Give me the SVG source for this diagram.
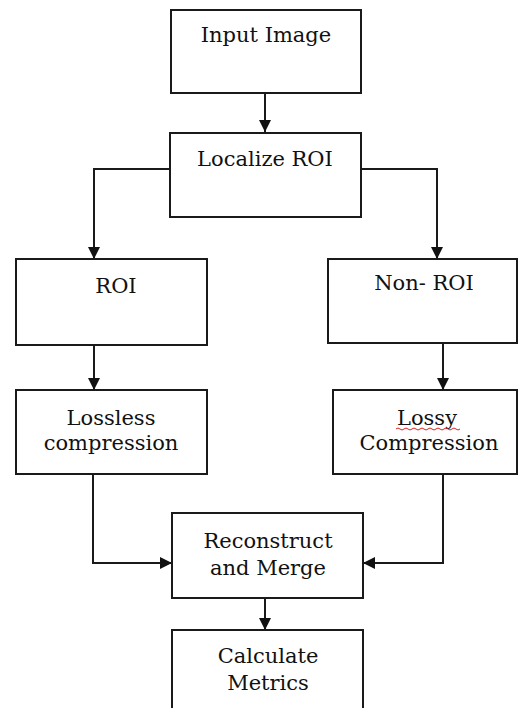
<svg xmlns="http://www.w3.org/2000/svg" width="518" height="708" viewBox="0 0 518 708">
<style>
.box{fill:#fff;stroke:#1a1a1a;stroke-width:2}
.lbl{font-family:"DejaVu Serif","Liberation Serif",serif;font-size:21px;fill:#111;text-anchor:middle}
.con{fill:none;stroke:#1a1a1a;stroke-width:2}
</style>
<defs>
<marker id="ah" viewBox="0 0 12 12" refX="12" refY="6" markerWidth="12" markerHeight="12" markerUnits="userSpaceOnUse" orient="auto">
<path d="M0,0 L12,6 L0,12 Z" fill="#111"/>
</marker>
</defs>
<rect width="518" height="708" fill="#fff"/>
<g id="connectors">
<path class="con" d="M265,93 V132" marker-end="url(#ah)"/>
<path class="con" d="M170,169 H94 V259" marker-end="url(#ah)"/>
<path class="con" d="M361,169 H437 V259" marker-end="url(#ah)"/>
<path class="con" d="M94,345 V390" marker-end="url(#ah)"/>
<path class="con" d="M443,343 V390" marker-end="url(#ah)"/>
<path class="con" d="M93,474 V563 H172" marker-end="url(#ah)"/>
<path class="con" d="M443,474 V563 H363" marker-end="url(#ah)"/>
<path class="con" d="M265,598 V630" marker-end="url(#ah)"/>
</g>
<g id="input-image">
<rect class="box" x="171" y="10" width="190" height="83"/>
<text class="lbl" x="266" y="42">Input Image</text>
</g>
<g id="localize-roi">
<rect class="box" x="170" y="133" width="191" height="84"/>
<text class="lbl" x="265" y="166">Localize ROI</text>
</g>
<g id="roi">
<rect class="box" x="16" y="259" width="191" height="86"/>
<text class="lbl" x="116" y="293">ROI</text>
</g>
<g id="non-roi">
<rect class="box" x="328" y="259" width="189" height="84"/>
<text class="lbl" x="424" y="290">Non- ROI</text>
</g>
<g id="lossless">
<rect class="box" x="16" y="390" width="191" height="84"/>
<text class="lbl" x="111" y="425">Lossless</text>
<text class="lbl" x="111" y="450">compression</text>
</g>
<g id="lossy">
<rect class="box" x="333" y="390" width="184" height="84"/>
<text class="lbl" x="427" y="425">Lossy</text>
<path d="M396,429 q2,-2 4,0 t4,0 t4,0 t4,0 t4,0 t4,0 t4,0 t4,0 t4,0 t4,0 t4,0 t4,0 t4,0 t4,0 t4,0 t4,0" fill="none" stroke="#e02020" stroke-width="1"/>
<text class="lbl" x="429" y="450">Compression</text>
</g>
<g id="reconstruct">
<rect class="box" x="172" y="513" width="191" height="85"/>
<text class="lbl" x="268" y="548">Reconstruct</text>
<text class="lbl" x="268" y="575">and Merge</text>
</g>
<g id="calculate">
<rect class="box" x="172" y="630" width="191" height="90"/>
<text class="lbl" x="268" y="663">Calculate</text>
<text class="lbl" x="268" y="690">Metrics</text>
</g>
</svg>
